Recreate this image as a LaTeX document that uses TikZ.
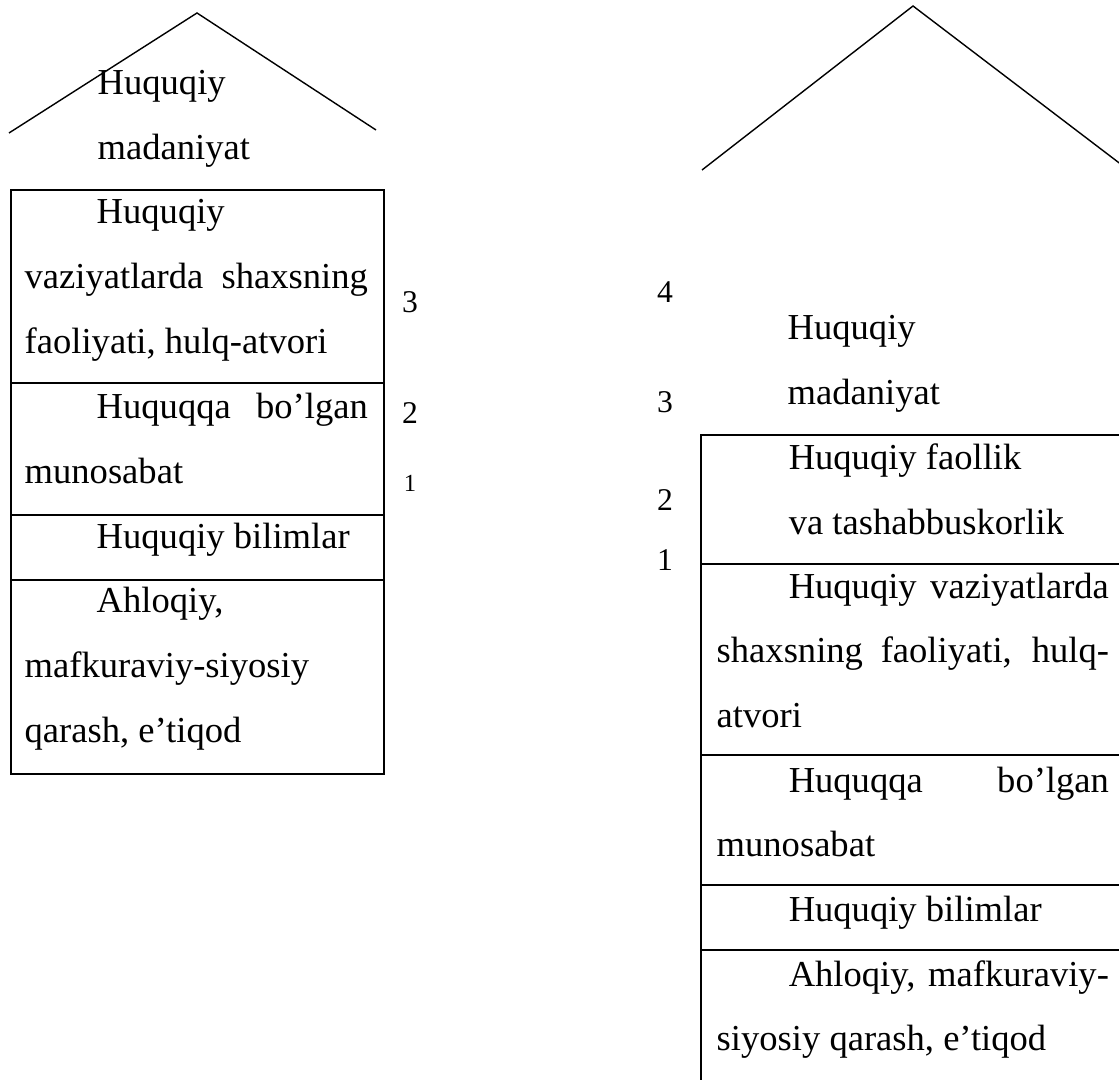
\documentclass[tikz,border=0pt]{standalone}
\usepackage{fontspec}
\setmainfont{Liberation Serif}
\usetikzlibrary{positioning}
\tolerance=10000
\hbadness=10000
\hyphenpenalty=10000

\begin{document}
\begin{tikzpicture}[x=0.01cm, y=-0.01cm,
    roof/.style={line width=0.4pt},
    wall/.style={line width=0.65pt},
    cell/.style={anchor=base west, inner sep=0pt, align=justify, font=\fontsize{10.4}{18.4}\selectfont},
    label/.style={anchor=base west, inner sep=0pt, align=left, text width=3cm, font=\fontsize{10.4}{18.4}\selectfont},
    num/.style={inner sep=0pt, font=\fontsize{9}{10}\selectfont}]
    \useasboundingbox (0,0) rectangle (1119,1080);
    \clip (0,0) rectangle (1119,1080);

    \coordinate (eaveLl) at (9,133);
    \coordinate (apexL) at (197,13);
    \coordinate (eaveLr) at (376,130);
    \draw[roof] (eaveLl) -- (apexL) -- (eaveLr);
    \node[label] (roofL) at (97,95) {Huquqiy\\madaniyat};

    \draw[wall] (11,190) rectangle (384,774);
    \foreach \y in {383,515,580}
        \draw[wall] (11,\y) -- (384,\y);
    \node[cell, text width=3.43cm] (faolL) at (24,224) {\hspace*{0.72cm}Huquqiy\\ vaziyatlarda shaxsning\linebreak faoliyati, hulq-atvori};
    \node[cell, text width=3.43cm] (munosL) at (24,419) {\hspace*{0.72cm}Huquqqa bo’lgan\linebreak munosabat};
    \node[cell, text width=3.43cm] (bilimL) at (24,549) {\hspace*{0.72cm}Huquqiy bilimlar};
    \node[cell, text width=3.43cm] (ahloqL) at (24,613) {\hspace*{0.72cm}Ahloqiy,\\ mafkuraviy-siyosiy\\ qarash, e’tiqod};

    \node[num] (n3L) at (410,302) {3};
    \node[num] (n2L) at (410,413) {2};
    \node[num, font=\fontsize{7}{8}\selectfont] (n1L) at (410,483) {1};

    \coordinate (eaveRl) at (702,170);
    \coordinate (apexR) at (913,6);
    \coordinate (eaveRr) at (1135,175);
    \draw[roof] (eaveRl) -- (apexR) -- (eaveRr);
    \node[label] (roofR) at (787,340) {Huquqiy\\madaniyat};

    \draw[wall] (1130,435) -- (701,435) -- (701,1090);
    \foreach \y in {564,755,885,950}
        \draw[wall] (701,\y) -- (1130,\y);
    \node[cell, text width=3.92cm] (tashR) at (716,470) {\hspace*{0.72cm}Huquqiy faollik\\ \hspace*{0.72cm}va tashabbuskorlik};
    \node[cell, text width=3.92cm] (faolR) at (716,598) {\hspace*{0.72cm}Huquqiy vaziyatlarda\linebreak shaxsning faoliyati, hulq-\linebreak atvori};
    \node[cell, text width=3.92cm] (munosR) at (716,792) {\hspace*{0.72cm}Huquqqa bo’lgan\linebreak munosabat};
    \node[cell, text width=3.92cm] (bilimR) at (716,921) {\hspace*{0.72cm}Huquqiy bilimlar};
    \node[cell, text width=3.92cm] (ahloqR) at (716,986) {\hspace*{0.72cm}Ahloqiy, mafkuraviy-\linebreak siyosiy qarash, e’tiqod};

    \node[num] (n4R) at (665,292) {4};
    \node[num] (n3R) at (665,402) {3};
    \node[num] (n2R) at (665,500) {2};
    \node[num] (n1R) at (665,560) {1};
\end{tikzpicture}
\end{document}
